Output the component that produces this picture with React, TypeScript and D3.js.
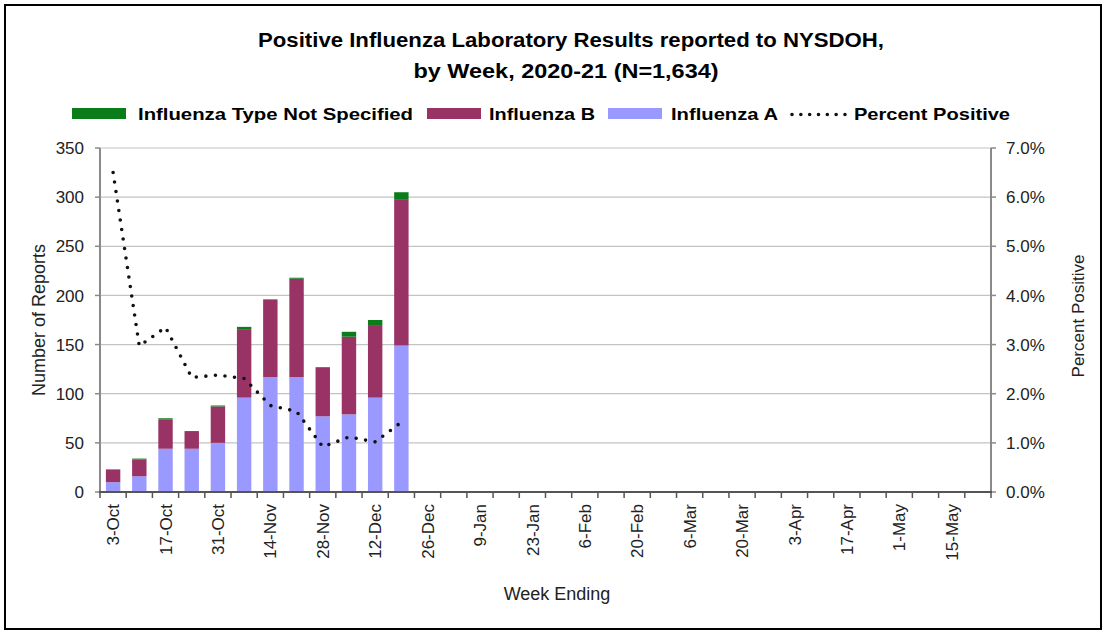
import React from "react";
import * as d3 from "d3";

const weeks = ["3-Oct","10-Oct","17-Oct","24-Oct","31-Oct","7-Nov","14-Nov","21-Nov","28-Nov","5-Dec","12-Dec","19-Dec","26-Dec","2-Jan","9-Jan","16-Jan","23-Jan","30-Jan","6-Feb","13-Feb","20-Feb","27-Feb","6-Mar","13-Mar","20-Mar","27-Mar","3-Apr","10-Apr","17-Apr","24-Apr","1-May","8-May","15-May","22-May"];
const fluA = [10, 16, 44, 44, 50, 96, 117, 117, 77, 79, 96, 149];
const fluB = [13, 17, 30, 18, 37, 69, 79, 100, 50, 79, 73, 149];
const fluNS = [0, 1, 1, 0, 1, 3, 0, 1, 0, 5, 6, 7];
const pctPos = [6.5, 2.97, 3.35, 2.33, 2.38, 2.31, 1.76, 1.64, 0.92, 1.12, 1.02, 1.42];
const leftTicks = [0, 50, 100, 150, 200, 250, 300, 350];
const rightTicks = [0, 1, 2, 3, 4, 5, 6, 7];

const COL_NS = "#0a7d1a";
const COL_B = "#993366";
const COL_A = "#9999ff";

const L = 100, R = 991, T = 148, B = 492;

export default function App() {
  const x = d3.scaleBand<string>().domain(weeks).range([L, R]).paddingInner(0.45).paddingOuter(0.225);
  const y = d3.scaleLinear().domain([0, 350]).range([B, T]);
  const y2 = d3.scaleLinear().domain([0, 7]).range([B, T]);
  const step = x.step();
  const bw = x.bandwidth();

  const stackData = fluA.map((a, i) => ({ week: weeks[i], A: a, B: fluB[i], NS: fluNS[i] }));
  const series = d3.stack<any>().keys(["A", "B", "NS"])(stackData);
  const colors: Record<string, string> = { A: COL_A, B: COL_B, NS: COL_NS };

  const line = d3.line<number>()
    .x((_, i) => (x(weeks[i]) as number) + bw / 2)
    .y((d) => y2(d));

  const x0 = (x(weeks[0]) as number) - (step * x.paddingInner()) / 2;
  const boundaries = d3.range(weeks.length + 1).map((i) => x0 + i * step);

  const labelWeeks = weeks.filter((_, i) => i % 2 === 0);
  const sans = "'Liberation Sans', Arial, sans-serif";

  return (
    <svg width={1102} height={632} style={{ position: "absolute", left: 0, top: 0, background: "#fff" }}>
      <rect x={5} y={5} width={1096} height={624} fill="#fff" stroke="#000" strokeWidth={2} />
      {/* Title */}
      <text x={571} y={47} textAnchor="middle" fontFamily={sans} fontWeight="bold" fontSize={20} textLength={626} lengthAdjust="spacingAndGlyphs" fill="#000">Positive Influenza Laboratory Results reported to NYSDOH,</text>
      <text x={566} y={78} textAnchor="middle" fontFamily={sans} fontWeight="bold" fontSize={20} textLength={305} lengthAdjust="spacingAndGlyphs" fill="#000">by Week, 2020-21 (N=1,634)</text>

      {/* Legend */}
      <g fontFamily={sans} fontWeight="bold" fontSize={17} fill="#000">
        <rect x={72} y={108} width={54} height={11} fill={COL_NS} />
        <text x={138} y={120} textLength={275} lengthAdjust="spacingAndGlyphs">Influenza Type Not Specified</text>
        <rect x={427} y={108} width={54} height={11} fill={COL_B} />
        <text x={489} y={120} textLength={106} lengthAdjust="spacingAndGlyphs">Influenza B</text>
        <rect x={608} y={108} width={54} height={11} fill={COL_A} />
        <text x={671} y={120} textLength={107} lengthAdjust="spacingAndGlyphs">Influenza A</text>
        <path d="M792,114.5L845,114.5" stroke="#111" strokeWidth={3.6} strokeLinecap="round" strokeDasharray="0 8.83" fill="none" />
        <text x={854} y={120} textLength={156} lengthAdjust="spacingAndGlyphs">Percent Positive</text>
      </g>

      {/* Gridlines */}
      {leftTicks.filter((t) => t > 0).map((t) => (
        <line key={"g" + t} x1={L} x2={R} y1={y(t)} y2={y(t)} stroke="#c3c3c3" strokeWidth={1.2} />
      ))}

      {/* Bars */}
      {series.map((s) => (
        <g key={s.key} fill={colors[s.key]}>
          {s.map((d: any, i: number) => (
            <rect key={i} x={x(d.data.week)} y={y(d[1])} width={bw} height={Math.max(0, y(d[0]) - y(d[1]))} />
          ))}
        </g>
      ))}

      {/* Percent line */}
      <path d={line(pctPos) || ""} fill="none" stroke="#111" strokeWidth={3.6} strokeLinecap="round" strokeDasharray="0 9.6" />

      {/* Axes */}
      <line x1={L} x2={L} y1={T} y2={B} stroke="#8a8a8a" strokeWidth={2} />
      <line x1={R} x2={R} y1={T} y2={B} stroke="#8a8a8a" strokeWidth={2} />
      {leftTicks.map((t) => (
        <g key={"lt" + t}>
          <line x1={L - 5} x2={L} y1={y(t)} y2={y(t)} stroke="#8a8a8a" strokeWidth={1.5} />
          <text x={84} y={y(t)} dy="0.36em" textAnchor="end" fontFamily={sans} fontSize={17} fill="#222">{t}</text>
        </g>
      ))}
      {rightTicks.map((t) => (
        <g key={"rt" + t}>
          <line x1={R} x2={R + 5} y1={y2(t)} y2={y2(t)} stroke="#8a8a8a" strokeWidth={1.5} />
          <text x={1006} y={y2(t)} dy="0.36em" textAnchor="start" fontFamily={sans} fontSize={17} fill="#222">{t.toFixed(1) + "%"}</text>
        </g>
      ))}
      <line x1={L - 1} x2={R + 1} y1={B} y2={B} stroke="#555" strokeWidth={2} />
      {boundaries.map((bx, i) => (
        <line key={"xt" + i} x1={bx} x2={bx} y1={B} y2={B + 6} stroke="#555" strokeWidth={1.5} />
      ))}
      {labelWeeks.map((w) => {
        const cx = (x(w) as number) + bw / 2;
        return (
          <text key={w} transform={`translate(${cx},${504}) rotate(-90)`} dy="0.36em" textAnchor="end" fontFamily={sans} fontSize={17} fill="#222">{w}</text>
        );
      })}

      {/* Axis titles */}
      <text transform={`translate(45,320) rotate(-90)`} textAnchor="middle" fontFamily={sans} fontSize={18} fill="#222">Number of Reports</text>
      <text transform={`translate(1084,316) rotate(-90)`} textAnchor="middle" fontFamily={sans} fontSize={17} fill="#222">Percent Positive</text>
      <text x={557} y={600} textAnchor="middle" fontFamily={sans} fontSize={18} fill="#222">Week Ending</text>
    </svg>
  );
}
